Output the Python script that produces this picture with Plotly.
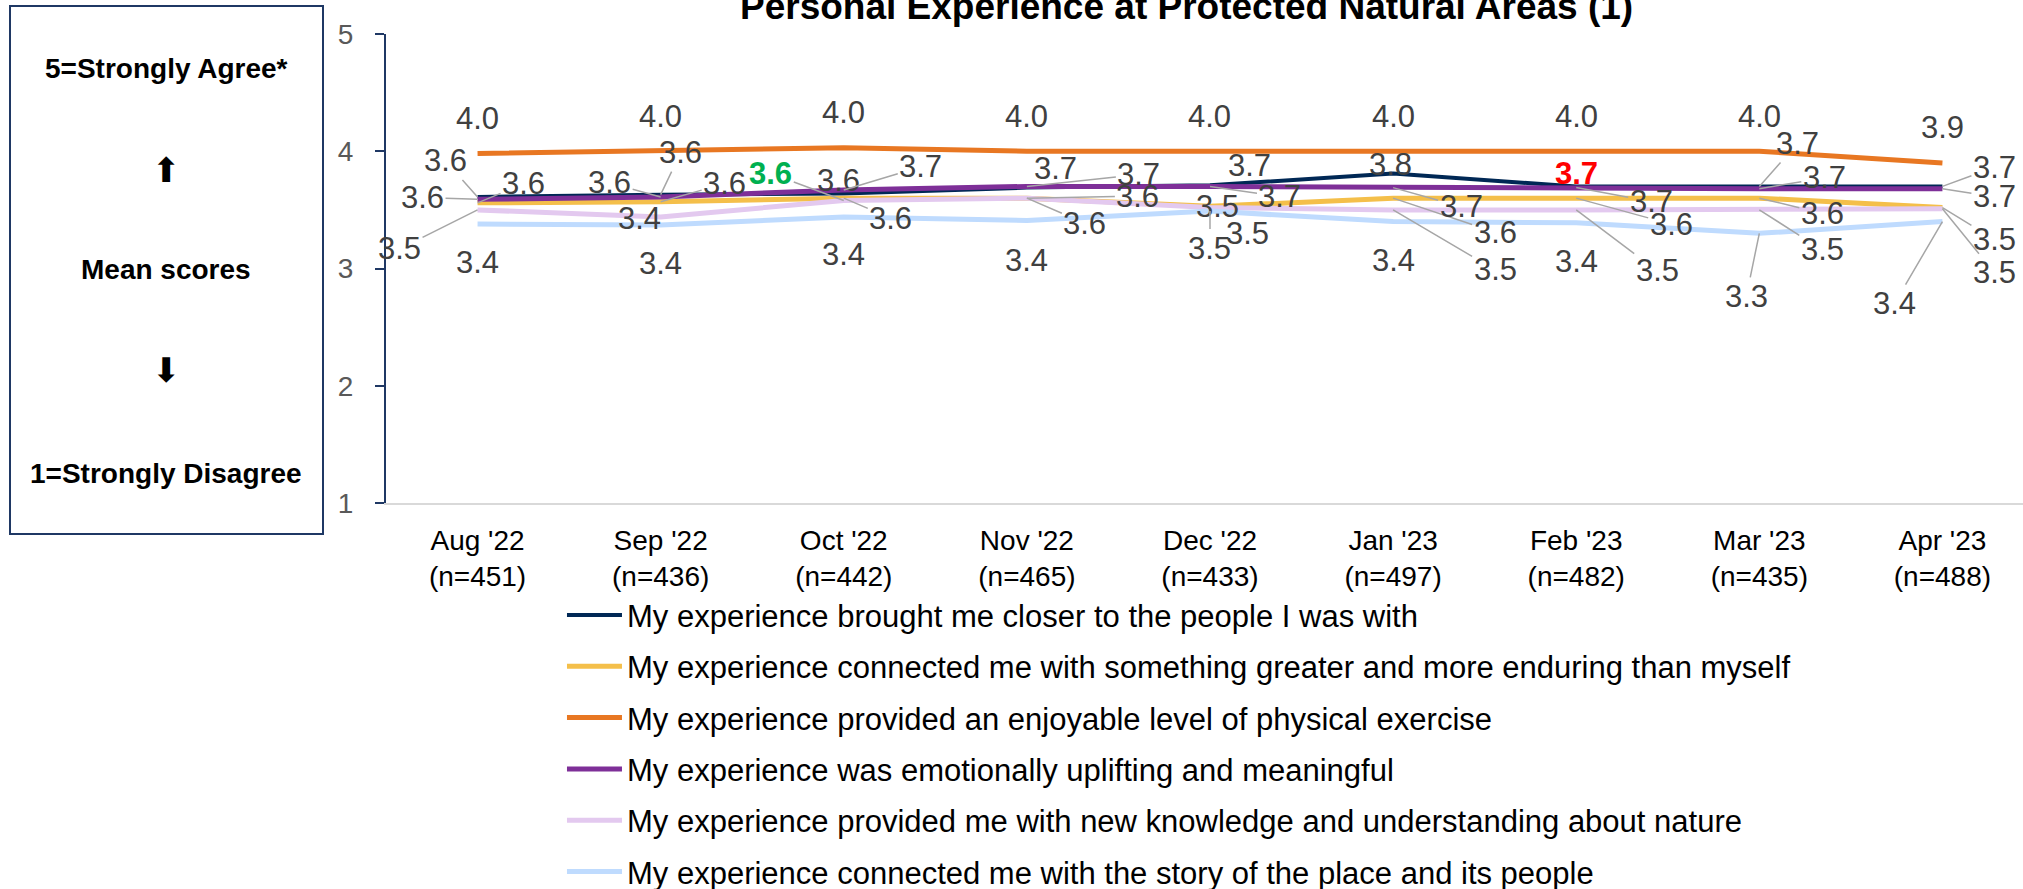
#!/usr/bin/env python3
'''

    - personal experience at protected natural areas, mean scores by month

'''
import plotly.graph_objects as go


months = ["Aug '22", "Sep '22", "Oct '22", "Nov '22", "Dec '22", "Jan '23", "Feb '23", "Mar '23", "Apr '23"]
n_sizes = [451, 436, 442, 465, 433, 497, 482, 435, 488]

closer = [3.61, 3.63, 3.64, 3.69, 3.71, 3.81, 3.70, 3.70, 3.70]
greater = [3.56, 3.57, 3.60, 3.60, 3.53, 3.60, 3.60, 3.60, 3.52]
exercise = [3.98, 4.00, 4.03, 4.00, 4.00, 4.00, 4.00, 4.00, 3.90]
uplifting = [3.59, 3.61, 3.67, 3.70, 3.70, 3.69, 3.69, 3.68, 3.68]
knowledge = [3.50, 3.44, 3.58, 3.60, 3.52, 3.50, 3.50, 3.50, 3.51]
story = [3.38, 3.37, 3.44, 3.41, 3.49, 3.40, 3.39, 3.30, 3.40]

series_names = [
    "My experience brought me closer to the people I was with",
    "My experience connected me with something greater and more enduring than myself",
    "My experience provided an enjoyable level of physical exercise",
    "My experience was emotionally uplifting and meaningful",
    "My experience provided me with new knowledge and understanding about nature",
    "My experience connected me with the story of the place and its people",
]

# significant changes (series index, month index) -> colour
highlights = {(4, 2): "#00B050", (0, 6): "#FF0000"}

FONT = "Arial, Liberation Sans, sans-serif"
NAVY_AXIS = "#1F3864"
LABEL_GREY = "#404040"
LEADER_GREY = "#A6A6A6"

# line colour / width per series
styles = [
    ("#002855", 4),
    ("#F4BF4A", 5),
    ("#E87722", 5),
    ("#7E2F98", 5),
    ("#E3C9EF", 5),
    ("#BFDBFE", 5),
]

# label placement: (dx, dy, leader line) in px from the point
label_offsets = [
    [(-32, -36, 1), (20, -42, 1), (-5, -13, 0), (29, -19, 0), (40, -20, 0), (-3, -9, 0), (0, -13, 0), (38, -43, 1), (52, -19, 1)],
    [(46, -19, 1), (64, -18, 1), (47, 20, 1), (58, 25, 1), (8, 0, 0), (102, 34, 1), (95, 26, 1), (63, 15, 1), (52, 32, 1)],
    [(0, -35, 0)] * 9,
    [(-55, -2, 1), (-51, -14, 1), (77, -23, 1), (112, -12, 1), (70, 10, 1), (68, 19, 1), (75, 14, 1), (65, -11, 1), (52, 8, 1)],
    [(-78, 39, 1), (-21, 2, 0), (-73, -27, 1), (111, -2, 1), (38, 26, 0), (102, 60, 1), (81, 61, 1), (63, 40, 1), (52, 64, 1)],
    [(0, 39, 0), (0, 38, 0), (0, 38, 0), (0, 40, 0), (0, 37, 1), (0, 39, 0), (0, 39, 0), (-13, 63, 1), (-48, 82, 1)],
]


def main():

    categories = [m + "<br>(n=" + str(n) + ")" for m, n in zip(months, n_sizes)]
    all_series = [closer, greater, exercise, uplifting, knowledge, story]

    fig = go.Figure()

    for i, values in enumerate(all_series):
        colour, width = styles[i]
        fig.add_trace(go.Scatter(
            x=categories, y=values,
            name=series_names[i],
            mode='lines',
            line=dict(color=colour, width=width),
            legendgroup=str(i),
            hoverinfo='skip',
        ))

    # data labels
    for i, values in enumerate(all_series):
        for j, v in enumerate(values):
            dx, dy, leader = label_offsets[i][j]
            colour = highlights.get((i, j), LABEL_GREY)
            text = f"{v:.1f}"
            if (i, j) in highlights:
                text = "<b>" + text + "</b>"
            fig.add_annotation(
                x=categories[j], y=v, text=text,
                showarrow=True, ax=dx, ay=dy,
                arrowhead=0, arrowwidth=1.5, standoff=0,
                arrowcolor=LEADER_GREY if leader else "rgba(0,0,0,0)",
                font=dict(family=FONT, size=31, color=colour),
            )

    # chart title (cut off at the top as in the source)
    fig.add_annotation(
        xref='paper', yref='paper', x=0.4887, y=1.058,
        text="<b>Personal Experience at Protected Natural Areas (1)</b>",
        showarrow=False, xanchor='center', yanchor='middle',
        font=dict(family=FONT, size=37, color="black"),
    )

    # scale box on the left
    def px_x(px):
        return (px - 386) / 1637

    def px_y(py):
        return (503 - py) / 469

    fig.add_shape(type='rect', xref='paper', yref='paper',
                  x0=px_x(10), x1=px_x(323), y0=px_y(534), y1=px_y(6),
                  line=dict(color=NAVY_AXIS, width=2), fillcolor='white', layer='below')

    box_texts = [
        ("<b>5=Strongly Agree*</b>", 68, FONT, 28),
        ("⬆", 170, "DejaVu Sans", 34),
        ("<b>Mean scores</b>", 269, FONT, 28),
        ("⬇", 370, "DejaVu Sans", 34),
        ("<b>1=Strongly Disagree</b>", 473, FONT, 28),
    ]
    for text, py, fam, size in box_texts:
        fig.add_annotation(
            xref='paper', yref='paper', x=px_x(166), y=px_y(py),
            text=text, showarrow=False, xanchor='center', yanchor='middle',
            font=dict(family=fam, size=size, color="black"),
        )

    fig.update_layout(
        width=2023, height=889,
        margin=dict(l=386, r=0, t=34, b=386, autoexpand=False),
        paper_bgcolor='white',
        plot_bgcolor='white',
        showlegend=True,
        legend=dict(
            orientation='v',
            x=0.1075, xanchor='left',
            y=-0.182, yanchor='top',
            font=dict(family=FONT, size=31, color="black"),
            tracegroupgap=8,
            traceorder='grouped',
            itemwidth=55,
            bgcolor='rgba(0,0,0,0)',
        ),
        xaxis=dict(
            type='category',
            range=[-0.5, 8.44],
            showgrid=False,
            showline=True, linecolor="#D9D9D9", linewidth=2,
            ticks='',
            ticklabelstandoff=11,
            tickfont=dict(family=FONT, size=28, color="black"),
            fixedrange=True,
        ),
        yaxis=dict(
            range=[1, 5],
            tickmode='linear', tick0=1, dtick=1,
            showgrid=False, zeroline=False,
            showline=True, linecolor=NAVY_AXIS, linewidth=2,
            ticks='outside', ticklen=9, tickcolor=NAVY_AXIS, tickwidth=2,
            ticklabelstandoff=16,
            tickfont=dict(family=FONT, size=28, color="#595959"),
            fixedrange=True,
        ),
    )

    # page body has a default margin; drop it so the chart sits at the corner
    fig.write_html("out.html", config={'displayModeBar': False},
                   post_script="document.body.style.margin='0';")


if __name__ == '__main__':
    main()
